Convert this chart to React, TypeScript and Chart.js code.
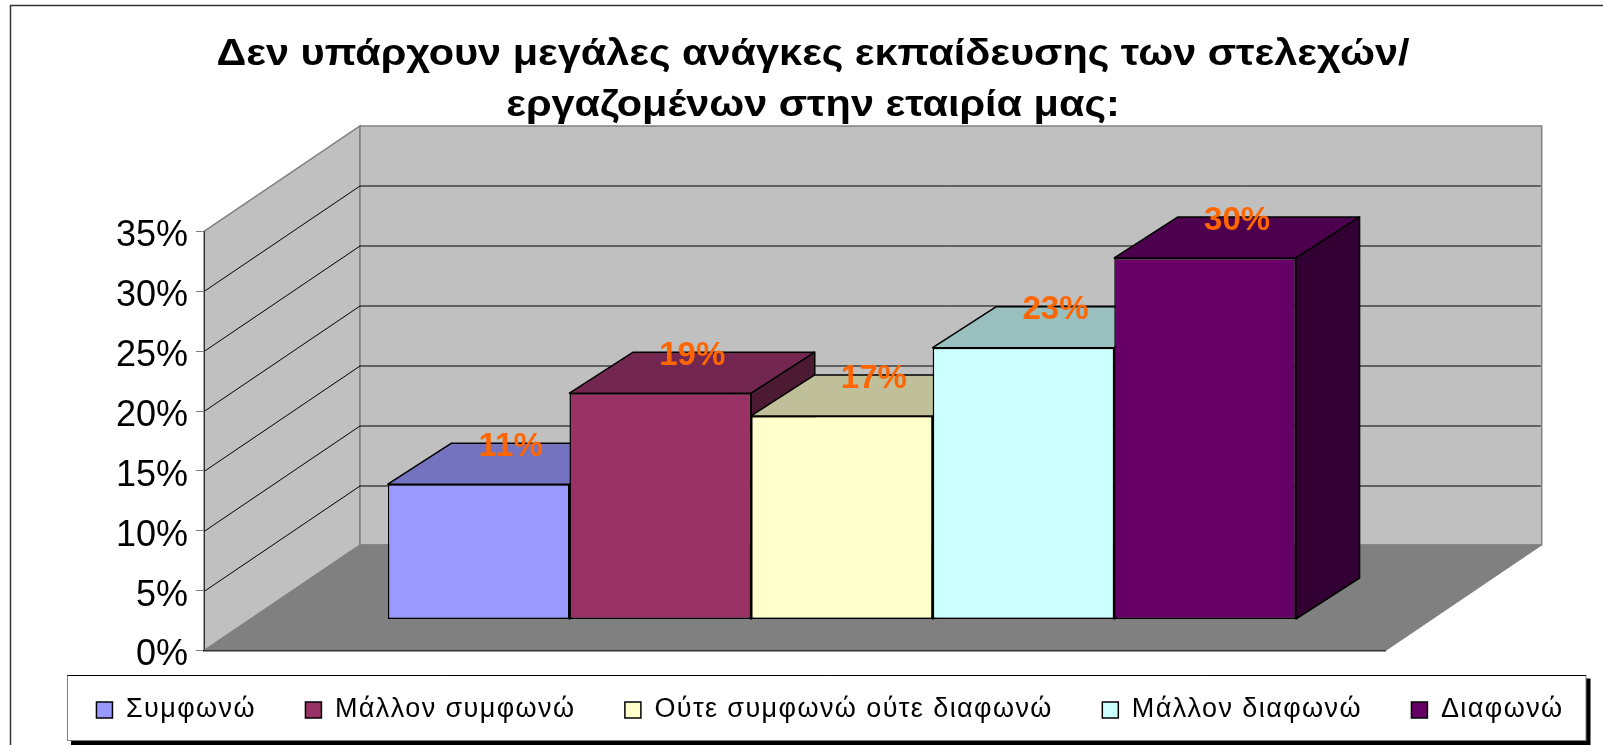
import React, { useEffect, useRef } from "react";
import { Chart, registerables } from "chart.js";

Chart.register(...registerables);

const titleLines = [
  "Δεν υπάρχουν μεγάλες ανάγκες εκπαίδευσης των στελεχών/",
  "εργαζομένων στην εταιρία μας:",
];
const categories = [""];
const seriesNames = ["Συμφωνώ", "Μάλλον συμφωνώ", "Ούτε συμφωνώ ούτε διαφωνώ", "Μάλλον διαφωνώ", "Διαφωνώ"];
const seriesValues = [11.3, 18.9, 17.0, 22.7, 30.2];
const frontColors = ["#9999FF", "#993366", "#FFFFCC", "#CCFFFF", "#660066"];
const topColors = ["#7373BF", "#732650", "#BFBF99", "#99BFBF", "#4D004D"];
const sideColors = ["#4D4D80", "#4D1A33", "#808066", "#668080", "#330033"];

const FONT = '"Liberation Sans", Arial, sans-serif';
const WALL_DX = 156;
const WALL_DY = 105.5;
const BAR_SHIFT_X = 47;
const BAR_SHIFT_Y = 31;
const BAR_DEPTH_X = 63.7;
const BAR_DEPTH_Y = 41;
const TITLE_STRETCH = 1.151;
const LEGEND_SPACING = "1.4px";

function poly(ctx: CanvasRenderingContext2D, pts: number[][], fill: string | null, stroke: string | null, lw = 1) {
  ctx.beginPath();
  pts.forEach((p, i) => (i ? ctx.lineTo(p[0], p[1]) : ctx.moveTo(p[0], p[1])));
  ctx.closePath();
  if (fill) {
    ctx.fillStyle = fill;
    ctx.fill();
  }
  if (stroke) {
    ctx.strokeStyle = stroke;
    ctx.lineWidth = lw;
    ctx.stroke();
  }
}

const scenePlugin = {
  id: "scene3d",
  beforeLayout(chart: any) {
    const ctx: any = chart.ctx;
    const legend = chart.legend;
    if (!legend.__patched) {
      legend.__patched = true;
      const fit = legend.fit.bind(legend);
      const draw = legend.draw.bind(legend);
      legend.fit = () => {
        ctx.letterSpacing = LEGEND_SPACING;
        fit();
        ctx.letterSpacing = "0px";
      };
      legend.draw = () => {
        ctx.letterSpacing = LEGEND_SPACING;
        draw();
        ctx.letterSpacing = "0px";
      };
    }
    const title = chart.titleBlock;
    if (!title.__patched) {
      title.__patched = true;
      const draw = title.draw.bind(title);
      title.draw = () => {
        const cx = (title.left + title.right) / 2;
        ctx.save();
        ctx.translate(cx, 0);
        ctx.scale(TITLE_STRETCH, 1);
        ctx.translate(-cx, 0);
        draw();
        ctx.restore();
      };
    }
  },
  afterLayout(chart: any) {
    const legend = chart.legend;
    legend.top = 647;
    legend.bottom = legend.top + legend.height;
    legend.left = 28.5;
    legend.right = legend.left + legend.width;
    chart.titleBlock.left = 23;
  },
  beforeDraw(chart: any) {
    const ctx: CanvasRenderingContext2D = chart.ctx;
    const { left, right, top, bottom } = chart.chartArea;
    const yScale = chart.scales.y;
    ctx.save();
    ctx.fillStyle = "#FFFFFF";
    ctx.fillRect(0, 0, chart.width, chart.height);

    // frame
    ctx.strokeStyle = "#333333";
    ctx.lineWidth = 1.5;
    ctx.beginPath();
    ctx.moveTo(10.5, chart.height);
    ctx.lineTo(10.5, 5.5);
    ctx.lineTo(chart.width, 5.5);
    ctx.stroke();

    // walls and floor
    const bl = left + WALL_DX;
    const br = right + WALL_DX;
    const tY = top - WALL_DY;
    const bY = bottom - WALL_DY;
    poly(ctx, [[left, top], [bl, tY], [bl, bY], [left, bottom]], "#C0C0C0", "#808080", 1.5);
    poly(ctx, [[bl, tY], [br, tY], [br, bY], [bl, bY]], "#C0C0C0", "#808080", 1.5);
    poly(ctx, [[left, bottom], [right, bottom], [br, bY], [bl, bY]], "#808080", "#808080", 1);

    // gridlines from the value scale
    ctx.strokeStyle = "#000000";
    ctx.lineWidth = 1;
    yScale.ticks.forEach((t: any) => {
      if (t.value === 0 || t.value === 35) return;
      const y = Math.round(yScale.getPixelForValue(t.value)) + 0.5;
      ctx.beginPath();
      ctx.moveTo(left, y);
      ctx.lineTo(bl, y - WALL_DY);
      ctx.lineTo(br - 1, y - WALL_DY);
      ctx.stroke();
    });

    // legend frame
    ctx.fillStyle = "#000000";
    ctx.fillRect(71, 678.5, 1519.5, 67);
    ctx.fillStyle = "#FFFFFF";
    ctx.fillRect(67.5, 675, 1518.5, 65.5);
    ctx.strokeStyle = "#808080";
    ctx.lineWidth = 1;
    ctx.strokeRect(67.5, 675.5, 1518.5, 65);
    ctx.strokeStyle = "#000000";
    ctx.beginPath();
    ctx.moveTo(67.5, 675.5);
    ctx.lineTo(1586, 675.5);
    ctx.stroke();
    ctx.restore();
  },
  beforeDatasetsDraw(chart: any) {
    const ctx: CanvasRenderingContext2D = chart.ctx;
    seriesValues.forEach((_, i) => {
      const meta = chart.getDatasetMeta(i);
      const el = meta.data[0];
      const props = el.getProps(["x", "y", "base", "width"], true);
      const x0 = props.x - props.width / 2 + BAR_SHIFT_X;
      const x1 = props.x + props.width / 2 + BAR_SHIFT_X;
      const yT = props.y - BAR_SHIFT_Y;
      const yB = props.base - BAR_SHIFT_Y;
      ctx.save();
      ctx.lineJoin = "round";
      poly(ctx, [[x1, yT], [x1 + BAR_DEPTH_X, yT - BAR_DEPTH_Y], [x1 + BAR_DEPTH_X, yB - BAR_DEPTH_Y], [x1, yB]], sideColors[i], "#000000", 1.5);
      poly(ctx, [[x0, yT], [x0 + BAR_DEPTH_X, yT - BAR_DEPTH_Y], [x1 + BAR_DEPTH_X, yT - BAR_DEPTH_Y], [x1, yT]], topColors[i], "#000000", 1.5);
      ctx.translate(BAR_SHIFT_X, -BAR_SHIFT_Y);
      meta.controller.draw();
      ctx.restore();
    });
    return false;
  },
  afterDraw(chart: any) {
    const ctx: CanvasRenderingContext2D = chart.ctx;
    ctx.save();
    ctx.fillStyle = "#FF6600";
    ctx.font = `bold 33px ${FONT}`;
    ctx.textAlign = "center";
    ctx.textBaseline = "middle";
    seriesValues.forEach((v, i) => {
      const el = chart.getDatasetMeta(i).data[0];
      const { x, y } = el.getProps(["x", "y"], true);
      ctx.fillText(`${Math.round(v)}%`, x + BAR_SHIFT_X + 32, y - BAR_SHIFT_Y - 37.5);
    });
    ctx.restore();
  },
};

export default function App() {
  const ref = useRef<HTMLCanvasElement>(null);
  useEffect(() => {
    if (!ref.current) return;
    const chart = new Chart(ref.current, {
      type: "bar",
      data: {
        labels: categories,
        datasets: seriesNames.map((name, i) => ({
          label: name,
          data: [seriesValues[i]],
          backgroundColor: frontColors[i],
          borderColor: "#000000",
          borderWidth: 1.5,
          borderSkipped: false,
          categoryPercentage: 0.7684,
          barPercentage: 1,
        })),
      },
      options: {
        animation: false,
        responsive: false,
        layout: { padding: { left: 0, right: 0, top: 0, bottom: 0 } },
        font: { family: FONT },
        scales: {
          x: {
            grid: { display: false },
            ticks: { display: false },
            border: { display: true, color: "#333333", width: 1.5 },
          },
          y: {
            min: 0,
            max: 35,
            ticks: {
              stepSize: 5,
              padding: 8,
              labelOffset: 5,
              color: "#000000",
              font: { family: FONT, size: 36 },
              callback: (v: any) => `${v}%`,
            },
            grid: { drawOnChartArea: false, tickLength: 8, color: "#808080" },
            border: { display: true, color: "#333333", width: 1 },
            afterFit: (s: any) => {
              s.width = 204;
            },
          },
          y2: {
            position: "right",
            display: true,
            ticks: { display: false },
            grid: { display: false },
            border: { display: false },
            afterFit: (s: any) => {
              s.width = 217.3;
            },
          },
        },
        plugins: {
          tooltip: { enabled: false },
          title: {
            display: true,
            text: titleLines,
            color: "#000000",
            font: { family: FONT, size: 36, weight: "bold", lineHeight: 1.43 },
            padding: { top: 29, bottom: 99.5 },
          },
          legend: {
            display: true,
            position: "bottom",
            labels: {
              color: "#000000",
              font: { family: FONT, size: 27 },
              boxWidth: 16,
              boxHeight: 16,
              padding: 49.5,
            },
          },
        },
      } as any,
      plugins: [scenePlugin as any],
    });
    return () => chart.destroy();
  }, []);
  return (
    <div style={{ position: "fixed", left: 0, top: 0, width: 1603, height: 745, background: "#fff" }}>
      <canvas ref={ref} width={1603} height={745} style={{ display: "block" }} />
    </div>
  );
}
